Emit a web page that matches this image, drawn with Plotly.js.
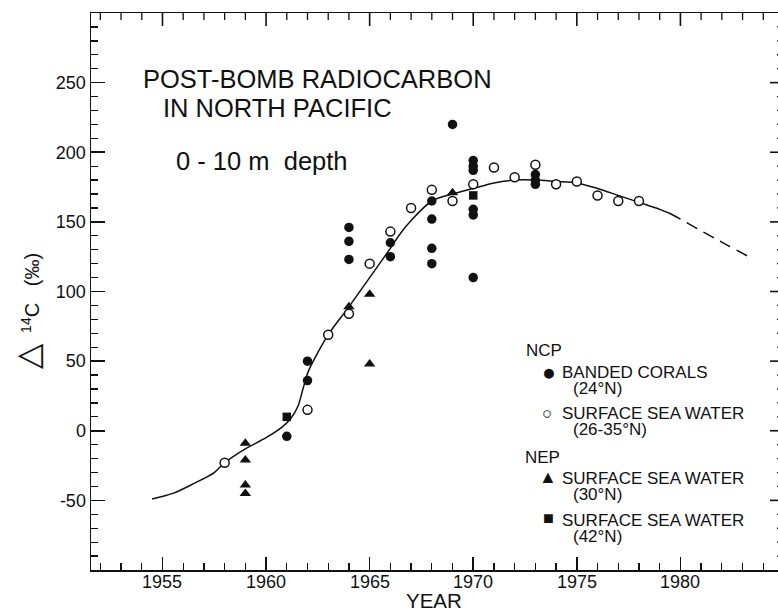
<!DOCTYPE html>
<html>
<head>
<meta charset="utf-8">
<script src="https://cdn.plot.ly/plotly-3.0.1.min.js"></script>
<style>
html, body { margin: 0; padding: 0; background: #fff; overflow: hidden; }
#chart { width: 786px; height: 611px; }
</style>
</head>
<body>
<div id="chart"></div>
<script>
// ---- data ----
// NCP banded corals (24°N) - filled circles
const coralYears = [1961, 1962, 1962, 1964, 1964, 1964, 1966, 1966, 1968, 1968, 1968, 1968, 1969, 1970, 1970, 1970, 1970, 1970, 1970, 1973, 1973, 1973];
const coralD14C  = [-4, 50, 36, 146, 136, 123, 135, 125, 165, 152, 131, 120, 220, 194, 190, 187, 159, 155, 110, 184, 180, 177];
// NCP surface sea water (26-35°N) - open circles
const ncpSeaYears = [1958, 1962, 1963, 1964, 1965, 1966, 1967, 1968, 1969, 1970, 1971, 1972, 1973, 1974, 1975, 1976, 1977, 1978];
const ncpSeaD14C  = [-23, 15, 69, 84, 120, 143, 160, 173, 165, 177, 189, 182, 191, 177, 179, 169, 165, 165];
// NEP surface sea water (30°N) - triangles
const nep30Years = [1959, 1959, 1959, 1959, 1964, 1965, 1965, 1969];
const nep30D14C  = [-9, -21, -39, -45, 89, 98, 48, 171];
// NEP surface sea water (42°N) - squares
const nep42Years = [1961, 1970];
const nep42D14C  = [10, 169];
// fitted curve (solid) and its extrapolation (dashed)
const curveYears = [1954.5, 1955.5, 1956.5, 1957.5, 1958.0, 1959.0, 1960.0, 1960.8, 1961.2, 1961.55, 1961.8, 1962.05, 1963.0, 1964.0, 1965.0, 1966.0, 1966.5, 1967.0, 1968.0, 1969.0, 1970.0, 1971.0, 1972.0, 1973.0, 1974.0, 1975.0, 1976.0, 1977.0, 1978.0, 1979.0, 1979.5];
const curveD14C  = [-49, -45, -38, -30, -23, -13, -5, 3, 9, 18, 31, 43, 69, 89, 110, 131, 142, 151, 165, 170, 174, 178, 180, 180, 179, 178, 174, 169, 164, 159, 156];
const extrapYears = [1979.5, 1980.0, 1981.25, 1982.3, 1983.3];
const extrapD14C  = [156, 152, 141.5, 133, 125];
// tick labels
const xTickVals = [1955, 1960, 1965, 1970, 1975, 1980];
const xTickText = ['1955', '1960', '1965', '1970', '1975', '1980'];
const yTickVals = [-50, 0, 50, 100, 150, 200, 250];
const yTickText = ['-50', '0', '50', '100', '150', '200', '250'];

const FONT = 'Liberation Sans, Arial, sans-serif';
const INK = '#111';
const X_RANGE = [1951.55, 1985];
const Y_RANGE = [-100, 300];

const traces = [
  { x: curveYears, y: curveD14C, mode: 'lines', line: { color: INK, width: 1.5, shape: 'spline', smoothing: 0.8 }, showlegend: false, hoverinfo: 'skip' },
  { x: extrapYears, y: extrapD14C, mode: 'lines', line: { color: INK, width: 1.5, dash: '12px,7px', shape: 'spline' }, showlegend: false, hoverinfo: 'skip' },
  { x: nep30Years, y: nep30D14C, mode: 'markers', name: 'NEP 30°N', marker: { symbol: 'triangle-up', size: 10, color: INK }, showlegend: false },
  { x: nep42Years, y: nep42D14C, mode: 'markers', name: 'NEP 42°N', marker: { symbol: 'square', size: 8.5, color: INK }, showlegend: false },
  { x: coralYears, y: coralD14C, mode: 'markers', name: 'Banded corals', marker: { symbol: 'circle', size: 9.5, color: INK }, showlegend: false },
  { x: ncpSeaYears, y: ncpSeaD14C, mode: 'markers', name: 'NCP sea water', marker: { symbol: 'circle', size: 9, color: '#fff', line: { color: INK, width: 1.5 } }, showlegend: false }
];

// figure geometry (pixels)
const L = 91, T = 13, PW = 693, PH = 557;
const px = v => (v - L) / PW;
const py = v => 1 - (v - T) / PH;

function txt(text, x, y, size, anchor, extra) {
  return Object.assign({ text: text, x: px(x), y: py(y), xref: 'paper', yref: 'paper', showarrow: false,
           xanchor: anchor || 'left', yanchor: 'middle', font: { family: FONT, size: size, color: INK } }, extra || {});
}

const annotations = [
  txt('POST-BOMB RADIOCARBON', 141, 79, 25.5),
  txt('IN NORTH PACIFIC', 161, 108, 25.5),
  txt('0 - 10 m\u00a0\u00a0depth', 174, 161, 25.5),
  txt('NCP', 524, 350, 17),
  txt('\u25CF', 549, 372, 23, 'center'),
  txt('BANDED CORALS', 560, 372, 17),
  txt('(24°N)', 571, 388, 17),
  txt('\u25CB', 547, 413, 17, 'center'),
  txt('SURFACE SEA WATER', 560, 413, 17),
  txt('(26-35°N)', 571, 429, 17),
  txt('NEP', 523, 457, 17),
  txt('\u25B2', 548, 477, 18, 'center'),
  txt('SURFACE SEA WATER', 560, 478, 17),
  txt('(30°N)', 571, 495, 17),
  txt('\u25A0', 548, 518, 18, 'center'),
  txt('SURFACE SEA WATER', 560, 520, 17),
  txt('(42°N)', 571, 536, 17),
  // axis titles
  txt('<span style="font-size:33px">\u25B3</span>\u00a0\u00a0<sup>14</sup>C\u00a0\u00a0\u00a0(‰)', 27, 311, 20, 'center', { textangle: -90 }),
  txt('YEAR', 434, 600, 20.5, 'center')
];
// x tick labels, placed on the x scale from the tick arrays
xTickVals.forEach((v, i) => {
  annotations.push({ text: xTickText[i], x: v, xref: 'x', y: py(581.5), yref: 'paper', showarrow: false,
    xanchor: 'center', yanchor: 'middle', font: { family: FONT, size: 18, color: INK } });
});

// tick marks of the mirrored frame (top and right), derived from the tick arrays / axis ranges
const shapes = [];
for (let yr = Math.ceil(X_RANGE[0]); yr <= Math.floor(X_RANGE[1]); yr++) {
  const major = xTickVals.includes(yr);
  shapes.push({ type: 'line', xref: 'x', yref: 'paper', layer: 'above', x0: yr, x1: yr,
    y0: 1, y1: 1 - (major ? 13 : 7) / PH,
    line: { color: INK, width: major ? 1.6 : 1.3 } });
}
for (let v = Y_RANGE[0] + 10; v < Y_RANGE[1]; v += 10) {
  const major = yTickVals.includes(v);
  shapes.push({ type: 'line', xref: 'paper', yref: 'y', layer: 'above',
    x0: 1, x1: 1 - (major ? 14 : 7) / PW, y0: v, y1: v,
    line: { color: INK, width: major ? 1.6 : 1.3 } });
}

const axisCommon = {
  showgrid: false, zeroline: false,
  showline: true, linecolor: INK, linewidth: 1.5, mirror: true,
  ticks: 'inside', tickwidth: 1.6, tickcolor: INK
};

const layout = {
  width: 786, height: 611,
  margin: { l: L, r: 786 - L - PW, t: T, b: 611 - T - PH, pad: 0 },
  paper_bgcolor: '#fff', plot_bgcolor: '#fff',
  font: { family: FONT, color: INK, size: 18 },
  showlegend: false,
  xaxis: Object.assign({}, axisCommon, {
    range: X_RANGE,
    tickmode: 'array', tickvals: xTickVals, ticktext: xTickText, ticklen: 13, showticklabels: false,
    minor: { tickmode: 'linear', tick0: 1950, dtick: 1, ticks: 'inside', ticklen: 7, tickwidth: 1.3, tickcolor: INK, showgrid: false }
  }),
  yaxis: Object.assign({}, axisCommon, {
    range: Y_RANGE,
    tickmode: 'array', tickvals: yTickVals, ticktext: yTickText, ticklen: 14,
    tickfont: { family: FONT, size: 18, color: INK },
    minor: { tickmode: 'linear', tick0: 0, dtick: 10, ticks: 'inside', ticklen: 7, tickwidth: 1.3, tickcolor: INK, showgrid: false }
  }),
  shapes: shapes,
  annotations: annotations
};

Plotly.newPlot('chart', traces, layout, { staticPlot: true, displayModeBar: false });
</script>
</body>
</html>
